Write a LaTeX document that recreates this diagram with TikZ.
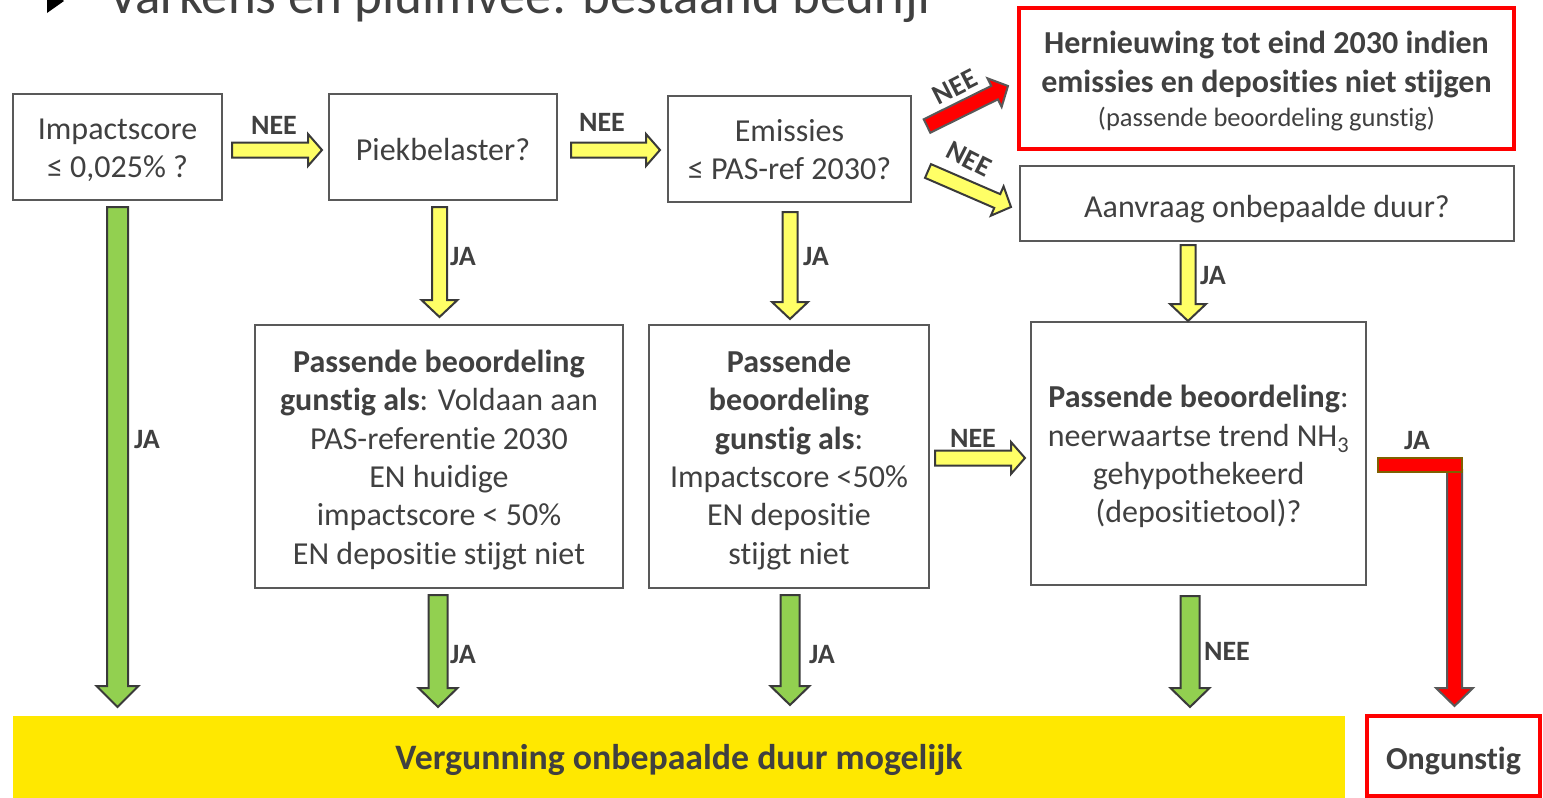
\documentclass[tikz,border=0pt]{standalone}
\usepackage{fontspec}
\setmainfont{Carlito}[Ligatures=NoCommon]
\usetikzlibrary{calc}

\definecolor{boxgray}{HTML}{595959}
\definecolor{txtgray}{HTML}{404040}
\definecolor{edgegray}{HTML}{3A3A3A}
\definecolor{arrowyellow}{HTML}{FFFF66}
\definecolor{arrowgreen}{HTML}{92D050}
\definecolor{barred}{HTML}{FF0000}
\definecolor{baryellow}{HTML}{FFE800}
\definecolor{barolive}{HTML}{7F6000}

% struts for the first and last line of a box
\newcommand\topstrut{\rule{0pt}{35pt}}
\newcommand\botstrut{\rule[-11.5pt]{0pt}{11.5pt}}

\tikzset{
  fat shaft/.store in=\fatshaft, fat head/.store in=\fathead, fat tip/.store in=\fattip,
  fat shaft=7.5, fat head=18, fat tip=17,
  box/.style={draw=boxgray, line width=2, align=center, text=txtgray, inner sep=0,
    font=\fontsize{32}{38.4}\selectfont,
    execute at begin node=\rule{0pt}{39pt}, execute at end node=\rule[-11.5pt]{0pt}{11.5pt}},
  redbox/.style={box, draw=barred, line width=4},
  lbl/.style={text=txtgray, inner sep=0, font=\fontsize{28}{30}\selectfont\bfseries},
  yarrow/.style={fill=arrowyellow, draw=edgegray, line width=2},
  garrow/.style={fill=arrowgreen, draw=edgegray, line width=2, fat shaft=9.5, fat head=19.5, fat tip=19},
  rarrow/.style={fill=barred, draw=boxgray, line width=2},
}

% block arrow from #2 to #3
\newcommand\fatarrow[3]{%
  \path let \p1=(#2), \p2=(#3) in
    \pgfextra{\pgfmathsetmacro\fang{atan2(\y2-\y1,\x2-\x1)}\global\let\fang\fang
              \pgfmathsetmacro\flen{veclen(\x2-\x1,\y2-\y1)}\global\let\flen\flen};
  \begin{scope}[shift={(#2)}, rotate=\fang]
    \filldraw[#1, line join=miter] (0,\fatshaft) -- ({\flen-\fattip},\fatshaft) -- ({\flen-\fattip},\fathead)
      -- (\flen,0) -- ({\flen-\fattip},-\fathead) -- ({\flen-\fattip},-\fatshaft) -- (0,-\fatshaft) -- cycle;
  \end{scope}}

\begin{document}
\begin{tikzpicture}[x=1pt,y=1pt]
  \useasboundingbox (0,0) rectangle (1543,-798);
  \clip (0,0) rectangle (1543,-798);

  % title, cut off at the top
  \fill[black] (47,12) -- (64,-1) -- (47,-13) -- cycle;
  \node[anchor=base west, inner sep=0, text=txtgray, font=\fontsize{53}{56}\selectfont] (title) at (108,-13)
    {Varkens en pluimvee: bestaand bedrijf};

  % boxes
  \node[box, minimum width=209, minimum height=106] (imp) at (117.5,-147)
    {\topstrut Impactscore\\≤ 0,025\% ?\botstrut};
  \node[box, minimum width=228, minimum height=106] (piek) at (443,-147) {Piekbelaster?};
  \node[box, minimum width=243, minimum height=106] (emis) at (789.5,-149)
    {\topstrut Emissies\\≤ PAS-ref 2030?\botstrut};
  \node[redbox, minimum width=495, minimum height=141] (hern) at (1266.5,-78.5)
    {\topstrut\textbf{Hernieuwing tot eind 2030 indien}\\\textbf{emissies en deposities niet stijgen}\\[-4pt]
     {\fontsize{26.5}{30}\selectfont(passende beoordeling gunstig)}\botstrut};
  \node[box, minimum width=494, minimum height=75] (aanvr) at (1267,-203.5) {Aanvraag onbepaalde duur?};
  \node[box, minimum width=368, minimum height=263] (pb1) at (439,-456.5)
    {\topstrut\textbf{Passende beoordeling}\\\textbf{gunstig als}: Voldaan aan\\PAS-referentie 2030\\EN huidige\\
     impactscore < 50\%\\EN depositie stijgt niet\botstrut};
  \node[box, minimum width=280, minimum height=263] (pb2) at (789,-456.5)
    {\topstrut\textbf{Passende}\\\textbf{beoordeling}\\\textbf{gunstig als}:\\Impactscore <50\%\\EN depositie\\stijgt niet\botstrut};
  \node[box, minimum width=335, minimum height=263] (pb3) at (1198.5,-453.5)
    {\topstrut\textbf{Passende beoordeling}:\\neerwaartse trend NH\textsubscript{3}\\gehypothekeerd\\(depositietool)?\botstrut};
  \node[fill=baryellow, minimum width=1332, minimum height=82, inner sep=0, text=txtgray,
    text height=32, text depth=8,
    font=\fontsize{35.8}{40}\selectfont\bfseries] (verg) at (679,-757) {Vergunning onbepaalde duur mogelijk};
  \node[redbox, minimum width=173, minimum height=80, font=\fontsize{32}{38}\selectfont\bfseries] (ong) at (1453.5,-756)
    {Ongunstig};

  % arrow ends
  \coordinate (a1s) at (232,-150);  \coordinate (a1e) at (322,-150);
  \coordinate (a2s) at (571,-150);  \coordinate (a2e) at (660,-150);
  \coordinate (a3s) at (927,-126);  \coordinate (a3e) at (1008,-86);
  \coordinate (a4s) at (928,-171);  \coordinate (a4e) at (1011,-207);
  \coordinate (a5s) at (117.5,-207);\coordinate (a5e) at (117.5,-707);
  \coordinate (a6s) at (439.5,-207);\coordinate (a6e) at (439.5,-317);
  \coordinate (a7s) at (790,-212);  \coordinate (a7e) at (790,-319);
  \coordinate (a8s) at (1188,-245); \coordinate (a8e) at (1188,-321);
  \coordinate (a9s) at (935,-458);  \coordinate (a9e) at (1025,-458);
  \coordinate (b1s) at (438,-595);  \coordinate (b1e) at (438,-707);
  \coordinate (b2s) at (790,-595);  \coordinate (b2e) at (790,-705);
  \coordinate (b3s) at (1190,-596); \coordinate (b3e) at (1190,-707);
  \coordinate (r1s) at (1454.5,-470);\coordinate (r1e) at (1454.5,-706);

  \fatarrow{yarrow, fat head=16, fat tip=14}{a1s}{a1e}
  \fatarrow{yarrow, fat head=16, fat tip=14}{a2s}{a2e}
  \fatarrow{rarrow, fat head=16, fat tip=15}{a3s}{a3e}
  \fatarrow{yarrow, fat head=16, fat tip=15}{a4s}{a4e}
  \fatarrow{garrow, fat shaft=10.5, fat head=21, fat tip=21}{a5s}{a5e}
  \fatarrow{yarrow}{a6s}{a6e}
  \fatarrow{yarrow}{a7s}{a7e}
  \fatarrow{yarrow}{a8s}{a8e}
  \fatarrow{yarrow, fat head=16, fat tip=14}{a9s}{a9e}
  \fatarrow{garrow}{b1s}{b1e}
  \fatarrow{garrow}{b2s}{b2e}
  \fatarrow{garrow}{b3s}{b3e}
  \fatarrow{rarrow, fat head=18.5, fat tip=18}{r1s}{r1e}
  \filldraw[fill=barred, draw=barolive, line width=2] (1378,-458) rectangle (1462,-472);

  % labels
  \node[lbl] (l1) at (274,-125) {NEE};
  \node[lbl] (l2) at (602,-122) {NEE};
  \node[lbl, rotate=27] (l3) at (955,-87) {NEE};
  \node[lbl, rotate=-27] (l4) at (969,-159) {NEE};
  \node[lbl] (l5) at (147,-440) {JA};
  \node[lbl] (l6) at (463,-257) {JA};
  \node[lbl] (l7) at (816,-257) {JA};
  \node[lbl] (l8) at (1213,-276) {JA};
  \node[lbl] (l9) at (973,-438) {NEE};
  \node[lbl] (l10) at (463,-655) {JA};
  \node[lbl] (l11) at (822,-655) {JA};
  \node[lbl] (l12) at (1227,-651) {NEE};
  \node[lbl] (l13) at (1417,-441) {JA};
\end{tikzpicture}
\end{document}
